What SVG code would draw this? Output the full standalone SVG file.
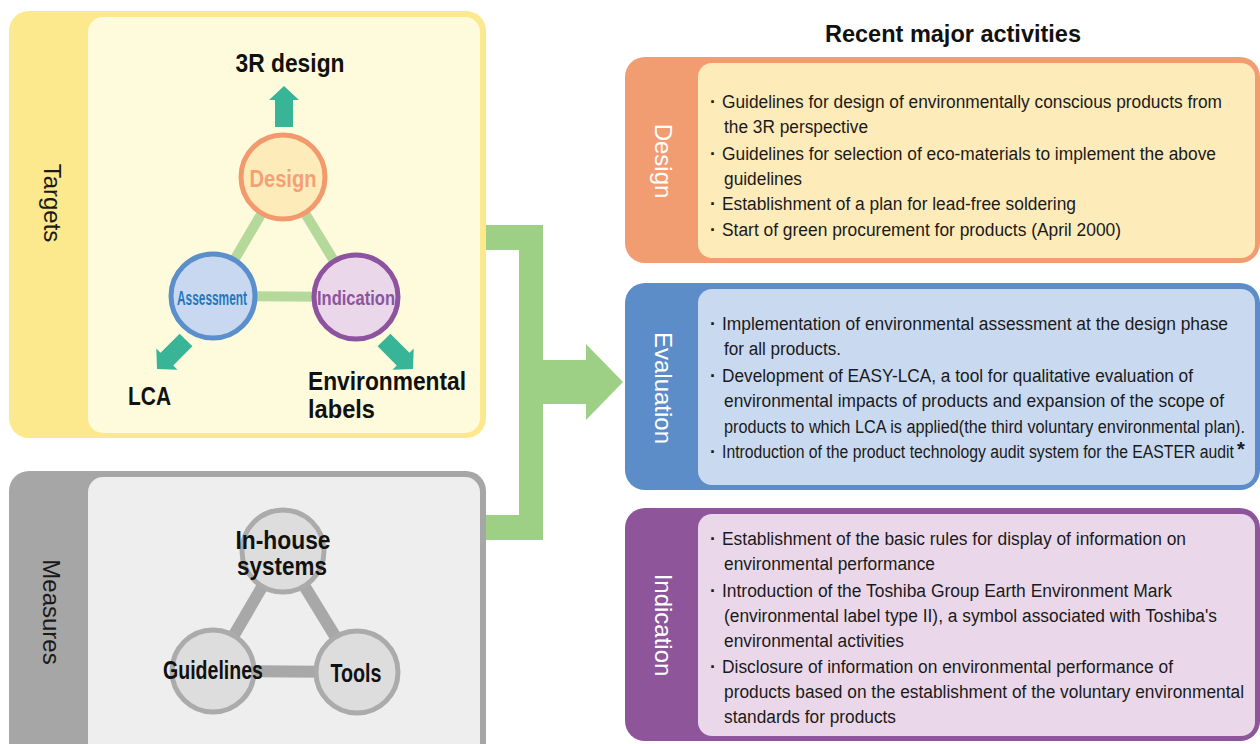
<svg xmlns="http://www.w3.org/2000/svg" width="1260" height="744" viewBox="0 0 1260 744">
<defs>
<style>
text{font-family:"Liberation Sans",Arial,sans-serif;}
.lbl{font-size:25px;font-weight:bold;fill:#111;}
.side{font-size:24px;fill:#1a1a1a;}
.wside{font-size:24px;fill:#fff;}
.body{font-size:18px;fill:#1a1a1a;}
.dot{font-size:18px;font-weight:bold;fill:#1a1a1a;}
.tri{stroke:#B5D99B;stroke-width:10;fill:none;}
.mtri{stroke:#A8A8A8;stroke-width:12;fill:none;}
.teal{fill:#38B596;}
.mc{fill:#DDDDDD;stroke:#ABABAB;stroke-width:5;}
</style>
<path id="arr" d="M0,0 L15,14 L9,14 L9,41 L-9,41 L-9,14 L-15,14 Z"/>
</defs>
<rect width="1260" height="744" fill="#fff"/>

<g id="panels">
<rect x="9" y="11" width="477" height="427" rx="20" fill="#FCE98D"/>
<rect x="88" y="17" width="392" height="416" rx="15" fill="#FEFBDC"/>
<text class="side" transform="translate(44,203) rotate(90)" text-anchor="middle">Targets</text>
<rect x="9" y="471" width="477" height="310" rx="20" fill="#A6A6A6"/>
<rect x="88" y="477" width="392" height="310" rx="15" fill="#EEEEEE"/>
<text class="side" transform="translate(43,612) rotate(90)" text-anchor="middle">Measures</text>
</g>

<g id="connectors">
<line class="tri" x1="283" y1="177" x2="213" y2="296"/>
<line class="tri" x1="283" y1="177" x2="356" y2="297"/>
<line class="tri" x1="213" y1="296" x2="356" y2="297"/>
<line class="mtri" x1="283" y1="551" x2="213" y2="671"/>
<line class="mtri" x1="283" y1="551" x2="357" y2="672"/>
<line class="mtri" x1="213" y1="671" x2="357" y2="672"/>
<use href="#arr" class="teal" transform="translate(284,86)"/>
<use href="#arr" class="teal" transform="translate(157,369) rotate(-135)"/>
<use href="#arr" class="teal" transform="translate(413,369) rotate(135)"/>
<path d="M486,225 H543 V360 H586 V344 L623,382 L586,420 V404 H543 V540 H486 V515 H519 V250 H486 Z" fill="#9DCF84"/>
</g>

<g id="node-design">
<circle cx="283" cy="177" r="42" fill="#FDECB9" stroke="#F29A6E" stroke-width="5"/>
<text x="283" y="187" text-anchor="middle" font-size="23" font-weight="bold" fill="#F4A077" textLength="67" lengthAdjust="spacingAndGlyphs">Design</text>
</g>
<g id="node-assessment">
<circle cx="213" cy="296" r="42" fill="#C8D8F0" stroke="#5A8FCB" stroke-width="5"/>
<text x="212" y="305" text-anchor="middle" font-size="20" font-weight="bold" fill="#1F78BE" textLength="70" lengthAdjust="spacingAndGlyphs">Assessment</text>
</g>
<g id="node-indication">
<circle cx="356" cy="297" r="42" fill="#EBD7EA" stroke="#8E539E" stroke-width="5"/>
<text x="356" y="305" text-anchor="middle" font-size="20" font-weight="bold" fill="#8E539E" textLength="78" lengthAdjust="spacingAndGlyphs">Indication</text>
</g>
<g id="label-3r">
<text class="lbl" x="290" y="72" text-anchor="middle" textLength="109" lengthAdjust="spacingAndGlyphs">3R design</text>
</g>
<g id="label-lca">
<text class="lbl" x="128" y="405" textLength="43" lengthAdjust="spacingAndGlyphs">LCA</text>
</g>
<g id="label-env">
<text class="lbl" x="308" y="390" textLength="158" lengthAdjust="spacingAndGlyphs">Environmental</text>
<text class="lbl" x="308" y="418" textLength="67" lengthAdjust="spacingAndGlyphs">labels</text>
</g>

<g id="node-inhouse">
<circle class="mc" cx="283" cy="551" r="41"/>
<text class="lbl" x="283" y="549" text-anchor="middle" textLength="95" lengthAdjust="spacingAndGlyphs">In-house</text>
<text class="lbl" x="282" y="575" text-anchor="middle" textLength="90" lengthAdjust="spacingAndGlyphs">systems</text>
</g>
<g id="node-guidelines">
<circle class="mc" cx="213" cy="671" r="41"/>
<text class="lbl" x="213" y="679" text-anchor="middle" textLength="100" lengthAdjust="spacingAndGlyphs">Guidelines</text>
</g>
<g id="node-tools">
<circle class="mc" cx="357" cy="672" r="41"/>
<text class="lbl" x="356" y="682" text-anchor="middle" textLength="51" lengthAdjust="spacingAndGlyphs">Tools</text>
</g>

<g id="title">
<text x="953" y="42" text-anchor="middle" font-size="24" font-weight="bold" fill="#111" textLength="256" lengthAdjust="spacingAndGlyphs">Recent major activities</text>
</g>

<g id="box-design">
<rect x="625" y="57" width="635" height="206" rx="20" fill="#F29C72"/>
<rect x="698" y="63" width="557" height="195" rx="14" fill="#FDEBBA"/>
<text class="wside" transform="translate(655,161) rotate(90)" text-anchor="middle">Design</text>
<text class="dot" x="710" y="108">·</text>
<text class="body" x="722" y="108" textLength="500" lengthAdjust="spacingAndGlyphs">Guidelines for design of environmentally conscious products from</text>
<text class="body" x="724" y="133" textLength="144" lengthAdjust="spacingAndGlyphs">the 3R perspective</text>
<text class="dot" x="710" y="160">·</text>
<text class="body" x="722" y="160" textLength="494" lengthAdjust="spacingAndGlyphs">Guidelines for selection of eco-materials to implement the above</text>
<text class="body" x="724" y="185" textLength="78" lengthAdjust="spacingAndGlyphs">guidelines</text>
<text class="dot" x="710" y="210">·</text>
<text class="body" x="722" y="210" textLength="354" lengthAdjust="spacingAndGlyphs">Establishment of a plan for lead-free soldering</text>
<text class="dot" x="710" y="236">·</text>
<text class="body" x="722" y="236" textLength="399" lengthAdjust="spacingAndGlyphs">Start of green procurement for products (April 2000)</text>
</g>

<g id="box-evaluation">
<rect x="625" y="283" width="635" height="207" rx="20" fill="#5C8DC8"/>
<rect x="698" y="289" width="557" height="196" rx="14" fill="#C9D9F0"/>
<text class="wside" transform="translate(655,388) rotate(90)" text-anchor="middle">Evaluation</text>
<text class="dot" x="710" y="330">·</text>
<text class="body" x="722" y="330" textLength="506" lengthAdjust="spacingAndGlyphs">Implementation of environmental assessment at the design phase</text>
<text class="body" x="724" y="355" textLength="117" lengthAdjust="spacingAndGlyphs">for all products.</text>
<text class="dot" x="710" y="382">·</text>
<text class="body" x="722" y="382" textLength="471" lengthAdjust="spacingAndGlyphs">Development of EASY-LCA, a tool for qualitative evaluation of</text>
<text class="body" x="724" y="407" textLength="500" lengthAdjust="spacingAndGlyphs">environmental impacts of products and expansion of the scope of</text>
<text class="body" x="724" y="433" textLength="521" lengthAdjust="spacingAndGlyphs">products to which LCA is applied(the third voluntary environmental plan).</text>
<text class="dot" x="710" y="458">·</text>
<text class="body" x="722" y="458" textLength="512" lengthAdjust="spacingAndGlyphs">Introduction of the product technology audit system for the EASTER audit</text>
<text x="1237" y="456" font-size="20" font-weight="bold" fill="#1a1a1a">*</text>
</g>

<g id="box-indication">
<rect x="625" y="508" width="635" height="233" rx="20" fill="#8E559B"/>
<rect x="698" y="514" width="557" height="222" rx="14" fill="#EAD8EA"/>
<text class="wside" transform="translate(655,625) rotate(90)" text-anchor="middle">Indication</text>
<text class="dot" x="710" y="545">·</text>
<text class="body" x="722" y="545" textLength="464" lengthAdjust="spacingAndGlyphs">Establishment of the basic rules for display of information on</text>
<text class="body" x="724" y="570" textLength="211" lengthAdjust="spacingAndGlyphs">environmental performance</text>
<text class="dot" x="710" y="597">·</text>
<text class="body" x="722" y="597" textLength="450" lengthAdjust="spacingAndGlyphs">Introduction of the Toshiba Group Earth Environment Mark</text>
<text class="body" x="724" y="622" textLength="493" lengthAdjust="spacingAndGlyphs">(environmental label type II), a symbol associated with Toshiba's</text>
<text class="body" x="724" y="647" textLength="180" lengthAdjust="spacingAndGlyphs">environmental activities</text>
<text class="dot" x="710" y="673">·</text>
<text class="body" x="722" y="673" textLength="451" lengthAdjust="spacingAndGlyphs">Disclosure of information on environmental performance of</text>
<text class="body" x="724" y="698" textLength="520" lengthAdjust="spacingAndGlyphs">products based on the establishment of the voluntary environmental</text>
<text class="body" x="724" y="723" textLength="172" lengthAdjust="spacingAndGlyphs">standards for products</text>
</g>
</svg>
